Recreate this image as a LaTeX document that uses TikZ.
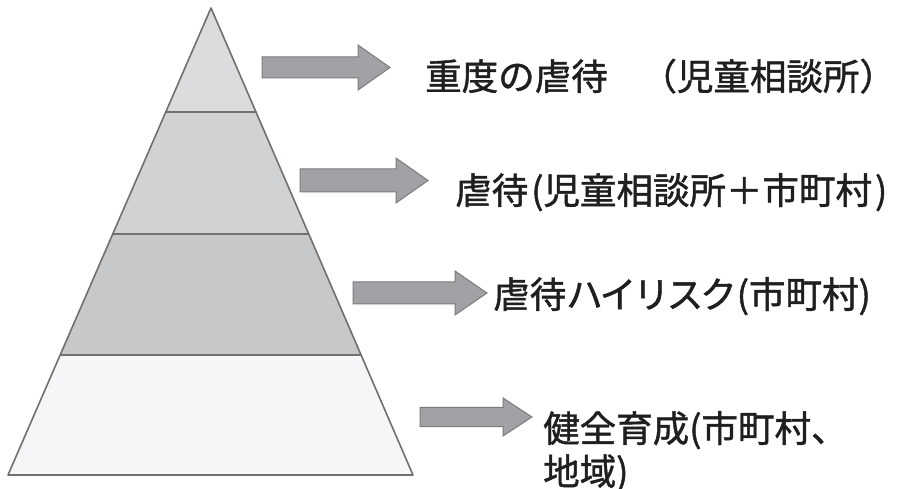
\documentclass[tikz,border=0pt]{standalone}
\usepackage{fontspec}
\newfontfamily\cjk[FakeBold=1.2]{Noto Sans CJK JP}
\usetikzlibrary{calc}
\definecolor{edgegray}{HTML}{707070}
\definecolor{layerA}{HTML}{DCDCDE}
\definecolor{layerB}{HTML}{D1D2D4}
\definecolor{layerC}{HTML}{C7C8CA}
\definecolor{layerD}{HTML}{F6F6F8}
\definecolor{arrowfill}{HTML}{A2A2A6}
\definecolor{arrowedge}{HTML}{7C7C7E}
\tikzset{
  layer/.style={draw=edgegray, line width=1.6pt, line join=round},
  blockarr/.style={fill=arrowfill, draw=arrowedge, line width=1pt, line join=miter},
  lbl/.style={anchor=base west, inner sep=0pt, font=\cjk\fontsize{36.5}{44}\selectfont, text=black!88}
}
% #1 shaft start x, #2 head start x, #3 tip x, #4 centre y, #5 half shaft, #6 half head
\newcommand\blockarrowshape[6]{%
  \path[blockarr] (#1,#4-#5) -- (#2,#4-#5) -- (#2,#4-#6) -- (#3,#4) -- (#2,#4+#6) -- (#2,#4+#5) -- (#1,#4+#5) -- cycle;}
\begin{document}
\begin{tikzpicture}[x=1pt,y=-1pt]
\path[fill=white,use as bounding box] (0,0) rectangle (898,489);
\coordinate (apex) at (211,8);
\coordinate (bl) at (8,475);
\coordinate (br) at (413,475);
\coordinate (l1) at ($(apex)!0.2227!(bl)$);
\coordinate (r1) at ($(apex)!0.2227!(br)$);
\coordinate (l2) at ($(apex)!0.4839!(bl)$);
\coordinate (r2) at ($(apex)!0.4839!(br)$);
\coordinate (l3) at ($(apex)!0.7430!(bl)$);
\coordinate (r3) at ($(apex)!0.7430!(br)$);
\fill[layerA] (apex) -- (r1) -- (l1) -- cycle;
\fill[layerB] (l1) -- (r1) -- (r2) -- (l2) -- cycle;
\fill[layerC] (l2) -- (r2) -- (r3) -- (l3) -- cycle;
\fill[layerD] (l3) -- (r3) -- (br) -- (bl) -- cycle;
\draw[layer] (apex) -- (br) -- (bl) -- cycle;
\draw[layer] (l1) -- (r1);
\draw[layer] (l2) -- (r2);
\draw[layer] (l3) -- (r3);
\blockarrowshape{262}{358}{390}{67.5}{10.5}{22.5}
\blockarrowshape{300}{396}{428}{180.5}{11.5}{22.5}
\blockarrowshape{353}{455}{487}{293}{11}{22}
\blockarrowshape{420}{503}{532}{417}{9.5}{19}
\node[lbl] (t1) at (425,90) {重度の虐待\hspace{0.9em}（児童相談所）};
\node[lbl] (t2) at (455,204) {虐待\kern3pt(児童相談所＋市町村\kern3pt)};
\node[lbl] (t3) at (493,308) {虐待ハ\kern-3ptイ\kern-3ptリ\kern-3ptス\kern-3ptク(市町村)};
\node[lbl] (t4a) at (543,442) {健全育成(市町村、};
\node[lbl] (t4b) at (543,485) {地域)};
\end{tikzpicture}
\end{document}
